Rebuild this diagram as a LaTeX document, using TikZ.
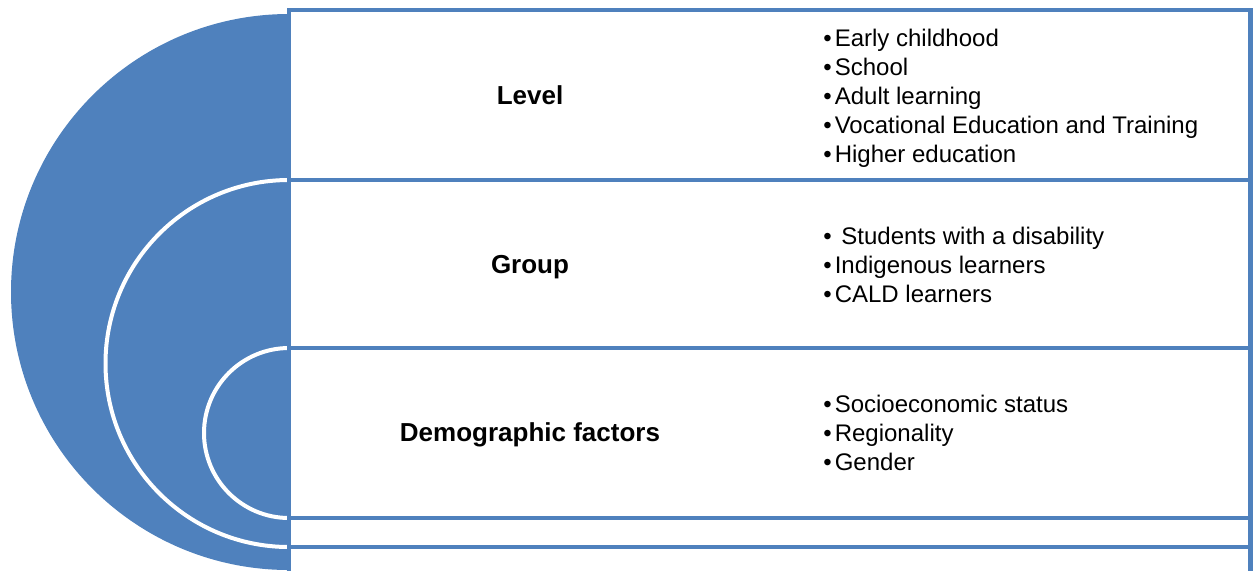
\documentclass[tikz,border=0pt]{standalone}
\usepackage{fontspec}
\setmainfont{Liberation Sans}
\usepackage{tikz}
\definecolor{bandblue}{HTML}{4F81BD}

\begin{document}
\begin{tikzpicture}[x=0.5pt, y=-0.5pt,
    every node/.style={font=\fontsize{12}{14.5}\selectfont, inner sep=0pt},
    bandtitle/.style={font=\fontsize{13}{16}\selectfont\bfseries, anchor=base},
    bandentry/.style={anchor=base west},
    bandbox/.style={draw=bandblue, line width=2.25pt, fill=white},
    ringline/.style={draw=white, line width=2pt}]
    \useasboundingbox (0,0) rectangle (1253,570);
    \clip (0,0) rectangle (1253,570);

    % Target rings, left half only
    \begin{scope}
        \clip (0,0) rectangle (289,570);
        \fill[bandblue] (289,292) circle[radius=278];
        \draw[ringline] (289,363.5) circle[radius=183.5];
        \draw[ringline] (289,433) circle[radius=85];
    \end{scope}

    % Bands
    \foreach \ytop/\ybot in {10/180, 180/348, 348/518, 518/547, 547/600} {
        \draw[bandbox] (289,\ytop) rectangle (1250.5,\ybot);
    }

    % Titles
    \node[bandtitle] (level) at (530,104) {Level};
    \node[bandtitle] (group) at (530,273) {Group};
    \node[bandtitle] (demo) at (530,441) {Demographic factors};

    % Bullet lists
    \foreach \entry [count=\i] in {Early childhood, School, Adult learning,
            Vocational Education and Training, Higher education} {
        \node[bandentry] (level-\i) at (823, 17+29*\i) {\textbullet\hspace{1.5pt}\entry};
    }
    \foreach \entry [count=\i] in {\ Students with a disability,
            Indigenous learners, CALD learners} {
        \node[bandentry] (group-\i) at (823, 215+29*\i) {\textbullet\hspace{1.5pt}\entry};
    }
    \foreach \entry [count=\i] in {Socioeconomic status, Regionality, Gender} {
        \node[bandentry] (demo-\i) at (823, 383+29*\i) {\textbullet\hspace{1.5pt}\entry};
    }
\end{tikzpicture}
\end{document}
